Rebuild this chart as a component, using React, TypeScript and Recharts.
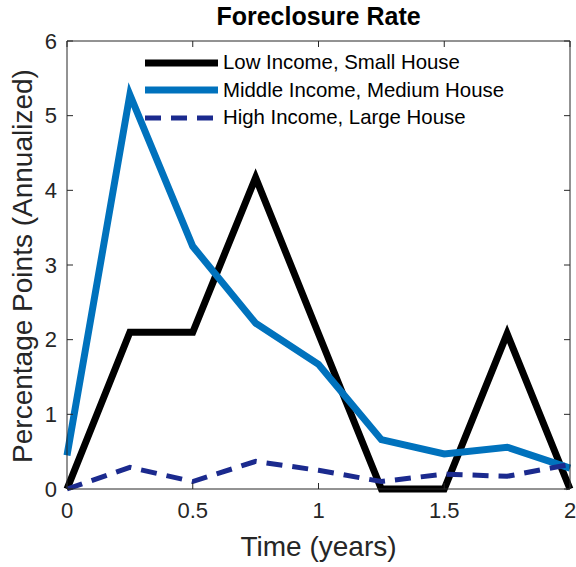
import { LineChart, Line, XAxis, YAxis } from "recharts"

const times = [0, 0.25, 0.5, 0.75, 1, 1.25, 1.5, 1.75, 2]
const lowIncome = [0, 2.1, 2.1, 4.17, 2.08, 0, 0, 2.08, 0]
const middleIncome = [0.45, 5.28, 3.25, 2.22, 1.67, 0.66, 0.47, 0.56, 0.28]
const highIncome = [0, 0.29, 0.1, 0.37, 0.25, 0.1, 0.2, 0.17, 0.33]
const xTicks = [0, 0.5, 1, 1.5, 2]
const yTicks = [0, 1, 2, 3, 4, 5, 6]

const seriesNames = [
  "Low Income, Small House",
  "Middle Income, Medium House",
  "High Income, Large House",
]

const data = times.map((t, i) => ({
  t,
  low: lowIncome[i],
  middle: middleIncome[i],
  high: highIncome[i],
}))

const font = "'Liberation Sans', Arial, sans-serif"
const axisColor = "#262626"

const legendItems = [
  { name: seriesNames[0], color: "#000000", width: 7, dash: undefined },
  { name: seriesNames[1], color: "#0072BD", width: 7, dash: undefined },
  { name: seriesNames[2], color: "#1B2A8E", width: 5, dash: "16 10" },
]

const noLabel = () => <g />

export default function App() {
  return (
    <div style={{ position: "absolute", left: 0, top: 0, width: 576, height: 567, background: "#fff" }}>
      <LineChart
        width={576}
        height={567}
        data={data}
        margin={{ top: 31, right: 0, bottom: 48, left: 37 }}
        style={{ position: "absolute", left: 0, top: 0 }}
      >
        <XAxis
          dataKey="t"
          type="number"
          domain={[0, 2]}
          ticks={xTicks}
          height={30}
          stroke={axisColor}
          tickSize={-6}
          tickMargin={19}
          tick={{ fontSize: 22, fill: axisColor, fontFamily: font }}
        />
        <XAxis
          xAxisId="top"
          dataKey="t"
          type="number"
          orientation="top"
          domain={[0, 2]}
          ticks={xTicks}
          height={10}
          stroke={axisColor}
          tickSize={-6}
          tick={noLabel}
        />
        <YAxis
          type="number"
          domain={[0, 6]}
          ticks={yTicks}
          width={30}
          stroke={axisColor}
          tickSize={-6}
          tickMargin={16}
          tick={{ fontSize: 22, fill: axisColor, fontFamily: font }}
        />
        <YAxis
          yAxisId="right"
          orientation="right"
          type="number"
          domain={[0, 6]}
          ticks={yTicks}
          width={6}
          stroke={axisColor}
          tickSize={-6}
          tick={noLabel}
        />
        <Line
          name={seriesNames[0]}
          dataKey="low"
          type="linear"
          stroke="#000000"
          strokeWidth={7}
          strokeLinejoin="miter"
          dot={false}
          isAnimationActive={false}
        />
        <Line
          name={seriesNames[1]}
          dataKey="middle"
          type="linear"
          stroke="#0072BD"
          strokeWidth={7}
          strokeLinejoin="miter"
          dot={false}
          isAnimationActive={false}
        />
        <Line
          name={seriesNames[2]}
          dataKey="high"
          xAxisId="top"
          yAxisId="right"
          type="linear"
          stroke="#1B2A8E"
          strokeWidth={5}
          strokeDasharray="16 10"
          strokeLinejoin="miter"
          dot={false}
          isAnimationActive={false}
        />
      </LineChart>
      <div
        style={{
          position: "absolute",
          top: 2,
          left: 67,
          width: 503,
          textAlign: "center",
          fontFamily: font,
          fontWeight: "bold",
          fontSize: 25,
        }}
      >
        Foreclosure Rate
      </div>
      <div
        style={{
          position: "absolute",
          top: 531,
          left: 67,
          width: 503,
          textAlign: "center",
          fontFamily: font,
          fontSize: 28,
          color: axisColor,
        }}
      >
        Time (years)
      </div>
      <div
        style={{
          position: "absolute",
          left: 23,
          top: 266,
          transform: "translate(-50%, -50%) rotate(-90deg)",
          whiteSpace: "nowrap",
          fontFamily: font,
          fontSize: 28,
          color: axisColor,
        }}
      >
        Percentage Points (Annualized)
      </div>
      <div style={{ position: "absolute", left: 143, top: 49, fontFamily: font, fontSize: 20.4, color: "#000" }}>
        {legendItems.map((item) => (
          <div key={item.name} style={{ display: "flex", alignItems: "center", height: 27.5 }}>
            <svg width={80} height={12}>
              <line
                x1={2}
                x2={75}
                y1={6}
                y2={6}
                stroke={item.color}
                strokeWidth={item.width}
                strokeDasharray={item.dash}
              />
            </svg>
            <span>{item.name}</span>
          </div>
        ))}
      </div>
    </div>
  )
}
